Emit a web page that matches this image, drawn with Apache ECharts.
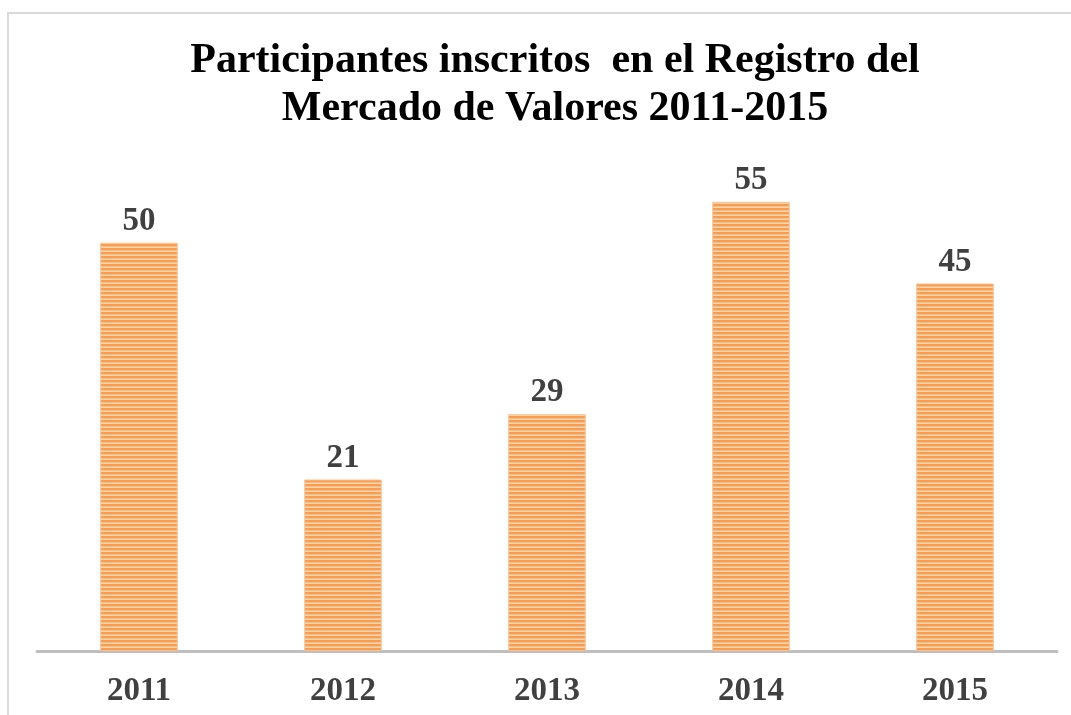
<!DOCTYPE html>
<html>
<head>
<meta charset="utf-8">
<script src="https://cdn.jsdelivr.net/npm/echarts@6/dist/echarts.min.js"></script>
<style>
  html, body { margin: 0; padding: 0; background: #fff; }
  #chart { width: 1071px; height: 715px; }
</style>
</head>
<body>
<div id="chart"></div>
<script>
const years = ['2011', '2012', '2013', '2014', '2015'];
const participants = [50, 21, 29, 55, 45];
const titleLines = ['Participantes inscritos  en el Registro del', 'Mercado de Valores 2011-2015'];

// horizontal stripe fill like the original bar pattern
function stripePattern() {
  const c = document.createElement('canvas');
  c.width = 4;
  c.height = 4;
  const ctx = c.getContext('2d');
  ctx.fillStyle = '#f89c50';
  ctx.fillRect(0, 0, 4, 4);
  ctx.fillStyle = '#fbbd88';
  ctx.fillRect(0, 2, 4, 1);
  ctx.fillStyle = '#fdd6b2';
  ctx.fillRect(0, 3, 4, 1);
  return c;
}

const chart = echarts.init(document.getElementById('chart'), null, { renderer: 'canvas' });
const serif = '"Liberation Serif", "Times New Roman", serif';

chart.setOption({
  backgroundColor: '#ffffff',
  animation: false,
  title: {
    text: titleLines.join('\n'),
    left: 550,
    top: 32,
    textAlign: 'center',
    textStyle: {
      fontFamily: serif,
      fontWeight: 'bold',
      fontSize: 42,
      lineHeight: 48,
      color: '#000000'
    }
  },
  graphic: [
    {
      type: 'rect',
      silent: true,
      shape: { x: 8, y: 13, width: 1120, height: 760 },
      style: { fill: 'none', stroke: '#d9d9d9', lineWidth: 2 }
    }
  ],
  grid: { left: 37, right: 14, top: 161, bottom: 64 },
  xAxis: {
    type: 'category',
    data: years,
    axisLine: { lineStyle: { color: '#bfbfbf', width: 3 } },
    axisTick: { show: false },
    axisLabel: {
      margin: 24,
      fontFamily: serif,
      fontWeight: 'bold',
      fontSize: 33,
      color: '#404040'
    }
  },
  yAxis: {
    type: 'value',
    min: 0,
    max: 60,
    show: false,
    splitLine: { show: false }
  },
  series: [
    {
      type: 'bar',
      data: participants,
      barWidth: '38%',
      itemStyle: {
        color: { image: stripePattern(), repeat: 'repeat' },
        borderColor: '#fbc090',
        borderWidth: 1
      },
      label: {
        show: true,
        position: 'top',
        distance: 5,
        fontFamily: serif,
        fontWeight: 'bold',
        fontSize: 33,
        color: '#404040'
      }
    }
  ]
});
</script>
</body>
</html>
